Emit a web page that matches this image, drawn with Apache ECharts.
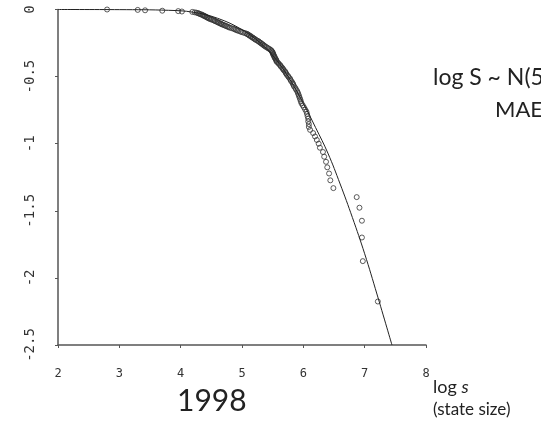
<!DOCTYPE html>
<html>
<head>
<meta charset="utf-8">
<script src="https://cdn.jsdelivr.net/npm/echarts@6/dist/echarts.min.js"></script>
<style>
  html, body { margin: 0; padding: 0; background: #ffffff; }
  #chart { width: 541px; height: 429px; }
</style>
</head>
<body>
<div id="chart"></div>
<script>
// Observed states: log size against log of the share of states at least that large
const logSize = [
  2.80, 3.30, 3.42, 3.70, 3.96, 4.02,
  4.19, 4.23, 4.26, 4.28, 4.30, 4.31, 4.33, 4.35, 4.36, 4.38,
  4.39, 4.40, 4.42, 4.43, 4.44, 4.46, 4.47, 4.49, 4.51, 4.53,
  4.55, 4.56, 4.58, 4.60, 4.61, 4.63, 4.65, 4.66, 4.68, 4.70,
  4.72, 4.74, 4.76, 4.78, 4.80, 4.83, 4.86, 4.88, 4.90, 4.92,
  4.94, 4.97, 4.99, 5.02, 5.05, 5.08, 5.09, 5.11, 5.12, 5.14,
  5.15, 5.17, 5.18, 5.20, 5.21, 5.23, 5.25, 5.27, 5.28, 5.30,
  5.31, 5.33, 5.34, 5.36, 5.37, 5.39, 5.41, 5.43, 5.45, 5.47,
  5.48, 5.49, 5.50, 5.50, 5.51, 5.51, 5.52, 5.53, 5.53, 5.54,
  5.55, 5.56, 5.56, 5.57, 5.59, 5.60, 5.62, 5.63, 5.64, 5.66,
  5.67, 5.68, 5.70, 5.71, 5.72, 5.73, 5.75, 5.76, 5.78, 5.79,
  5.80, 5.82, 5.83, 5.84, 5.85, 5.87, 5.88, 5.90, 5.91, 5.92,
  5.93, 5.94, 5.95, 5.96, 5.97, 5.99, 6.01, 6.03, 6.05, 6.06,
  6.07, 6.08, 6.08, 6.09, 6.09, 6.11,
  6.16, 6.19, 6.22, 6.25, 6.27, 6.32, 6.34, 6.37, 6.39, 6.42, 6.44, 6.49,
  6.87, 6.915, 6.955, 6.955, 6.97, 7.215
];
const logShare = [
  0, -0.003, -0.006, -0.009, -0.012, -0.015,
  -0.018, -0.021, -0.024, -0.027, -0.030, -0.033, -0.036, -0.039, -0.043, -0.046,
  -0.049, -0.052, -0.056, -0.059, -0.062, -0.066, -0.069, -0.072, -0.076, -0.079,
  -0.083, -0.086, -0.090, -0.093, -0.097, -0.101, -0.104, -0.108, -0.112, -0.115,
  -0.119, -0.123, -0.127, -0.131, -0.135, -0.139, -0.143, -0.147, -0.151, -0.155,
  -0.159, -0.163, -0.168, -0.172, -0.176, -0.181, -0.185, -0.189, -0.194, -0.198,
  -0.203, -0.208, -0.212, -0.217, -0.222, -0.227, -0.232, -0.237, -0.242, -0.247,
  -0.252, -0.257, -0.262, -0.268, -0.273, -0.278, -0.284, -0.290, -0.295, -0.301,
  -0.307, -0.313, -0.319, -0.325, -0.331, -0.337, -0.344, -0.350, -0.357, -0.363,
  -0.370, -0.377, -0.384, -0.391, -0.398, -0.405, -0.413, -0.420, -0.428, -0.436,
  -0.444, -0.452, -0.460, -0.469, -0.477, -0.486, -0.495, -0.504, -0.513, -0.523,
  -0.533, -0.543, -0.553, -0.563, -0.574, -0.585, -0.596, -0.608, -0.620, -0.632,
  -0.645, -0.658, -0.671, -0.685, -0.699, -0.714, -0.729, -0.745, -0.761, -0.778,
  -0.796, -0.814, -0.834, -0.854, -0.875, -0.897,
  -0.921, -0.946, -0.972, -1.000, -1.030, -1.062, -1.097, -1.135, -1.176, -1.222, -1.273, -1.331,
  -1.398, -1.477, -1.574, -1.699, -1.875, -2.176
];

// Fitted lognormal curve
const fitX = [2.0, 3.0, 3.8, 4.2, 4.6, 5.0, 5.3, 5.55, 5.78, 6.0, 6.2, 6.4, 6.6, 6.8, 7.0, 7.2, 7.445];
const fitY = [0, -0.001, -0.006, -0.02, -0.065, -0.15, -0.25, -0.37, -0.52, -0.70, -0.88, -1.07, -1.30, -1.55, -1.82, -2.12, -2.5];

// Axis ranges
const xMin = 2, xMax = 8, xStep = 1;
const yMin = -2.5, yMax = 0, yStep = 0.5;

const observed = logSize.map((x, i) => [x, logShare[i]]);
const fitted = fitX.map((x, i) => [x, fitY[i]]);

const monoFont = '"DejaVu Sans Mono", "Liberation Mono", monospace';
const textFont = 'Lato, "Open Sans", sans-serif';

const chart = echarts.init(document.getElementById('chart'), null, { renderer: 'canvas' });
chart.setOption({
  animation: false,
  backgroundColor: '#ffffff',
  grid: { left: 58, top: 9.5, width: 368, height: 335.5, containLabel: false },
  xAxis: {
    type: 'value', min: xMin, max: xMax, interval: xStep,
    axisLine: { show: true, onZero: false, lineStyle: { color: '#555', width: 1.5 } },
    axisTick: { show: true, length: 3, lineStyle: { color: '#555' } },
    axisLabel: { margin: 23, color: '#333', fontFamily: monoFont, fontSize: 12 },
    splitLine: { show: false }
  },
  yAxis: {
    type: 'value', min: yMin, max: yMax, interval: yStep,
    axisLine: { show: true, onZero: false, lineStyle: { color: '#555', width: 1.5 } },
    axisTick: { show: true, length: 3, lineStyle: { color: '#555' } },
    axisLabel: { margin: 21, rotate: 90, color: '#333', fontFamily: monoFont, fontSize: 14 },
    splitLine: { show: false }
  },
  series: [
    {
      type: 'scatter',
      data: observed,
      symbol: 'circle',
      symbolSize: 5,
      itemStyle: { color: 'rgba(0,0,0,0)', borderColor: '#333', borderWidth: 1 },
      z: 2
    },
    {
      type: 'line',
      data: fitted,
      smooth: 0.4,
      showSymbol: false,
      lineStyle: { color: '#222', width: 1 },
      z: 3
    }
  ],
  graphic: [
    {
      type: 'text', left: 433, top: 66,
      style: { text: 'log S ~ N(5.20, 0.82)', font: '23px ' + textFont, fill: '#222' }
    },
    {
      type: 'text', left: 495, top: 99,
      style: { text: 'MAE = 0.045', font: '22px ' + textFont, fill: '#222' }
    },
    {
      type: 'text', left: 177, top: 386,
      style: { text: '1998', font: '30px ' + textFont, fill: '#222' }
    },
    {
      type: 'text', left: 433, top: 378,
      style: {
        text: '{a|log }{b|s}',
        rich: {
          a: { fontFamily: textFont, fontSize: 18, fill: '#222' },
          b: { fontFamily: textFont, fontSize: 18, fontStyle: 'italic', fill: '#222' }
        }
      }
    },
    {
      type: 'text', left: 433, top: 401,
      style: { text: '(state size)', font: '17px ' + textFont, fill: '#222' }
    }
  ]
});
</script>
</body>
</html>
